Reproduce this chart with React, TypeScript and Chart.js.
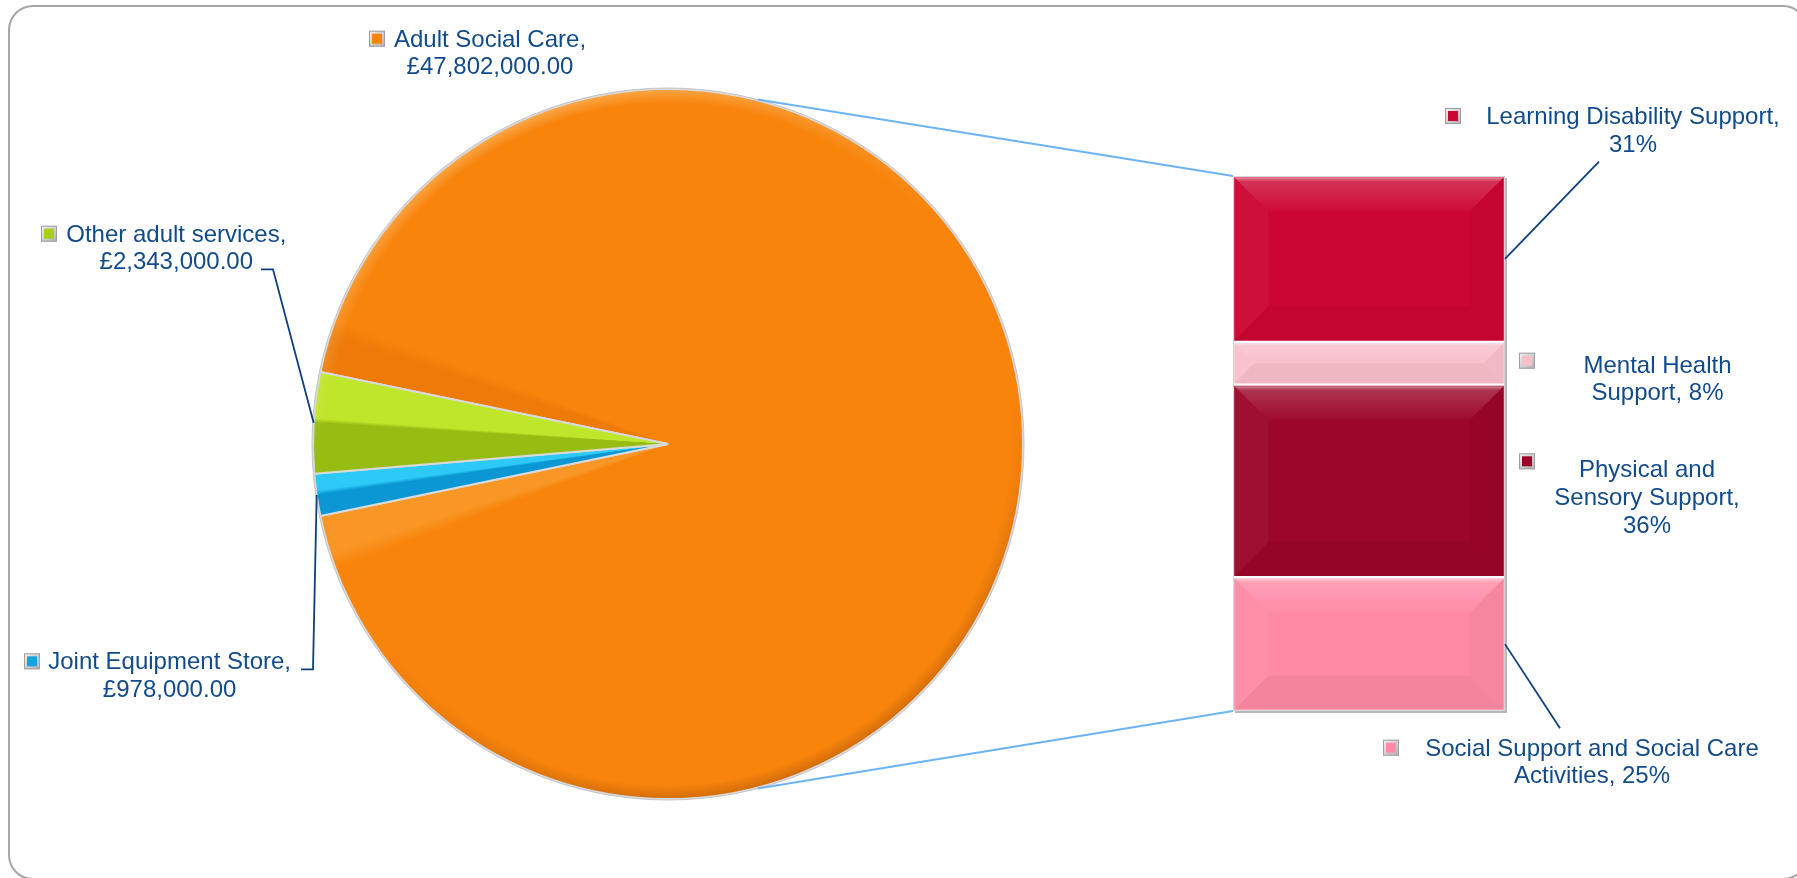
import React, { useEffect, useRef } from 'react';
import { Chart, registerables } from 'chart.js';

Chart.register(...registerables);

// ---------------- data ----------------
const pieCategories = ['Adult Social Care', 'Joint Equipment Store', 'Other adult services'];
const pieValues = [47802000, 978000, 2343000];

const barAxisLabels = ['Adult Social Care'];
const barCategories = [
  'Learning Disability Support',
  'Mental Health Support',
  'Physical and Sensory Support',
  'Social Support and Social Care Activities',
];
const barValues = [31, 8, 36, 25];

// ---------------- styles ----------------
const pieColors = ['#F8840C', '#13A3E2', '#A6CE18'];
const pieLight = ['#F99726', '#2DCAF7', '#BEE62B'];
const pieDark = ['#EE7B09', '#0A97D3', '#97BC12'];
const barColors = ['#CC0632', '#F9C0CB', '#9C0628', '#FF8AA6'];
const TEXT = '#124B8C';
const LEADER = '#0D3F7E';
const CONNECT = '#6DB4F6';
const FONT = '24px "Liberation Sans", Arial, sans-serif';
const LINE_H = 27.6;

const W = 1797;
const H = 878;
const PIE_PAD = { left: 312, top: 88, right: 773, bottom: 78 };
const BAR_PAD = { left: 1233, top: 176, right: 292, bottom: 167 };
const CONNECT_ANGLE = 75.4;

type Pt = [number, number];
interface LabelLayout {
  cx: number;
  baseline: number;
  keyX: number;
  keyLift?: number;
  wrap: number;
  leader?: Pt[];
}

const pieLabelLayout: LabelLayout[] = [
  { cx: 490, baseline: 46.7, keyX: 369, wrap: 205 },
  { cx: 169.6, baseline: 669.3, keyX: 24, wrap: 255, leader: [[301, 669.3], [313, 669.3]] },
  { cx: 176.3, baseline: 241.7, keyX: 41, wrap: 235, leader: [[261, 269.3], [273, 269.3]] },
];
const barLabelLayout: LabelLayout[] = [
  { cx: 1633, baseline: 124, keyX: 1445, wrap: 305, leader: [[1599, 161.7]] },
  { cx: 1657.5, baseline: 372.7, keyX: 1519, keyLift: 4, wrap: 165 },
  { cx: 1647, baseline: 477.3, keyX: 1519, keyLift: 8, wrap: 200 },
  { cx: 1592, baseline: 755.7, keyX: 1383, wrap: 345, leader: [[1560, 728.3]] },
];

// ---------------- derived ----------------
const pieTotal = pieValues.reduce((a, b) => a + b, 0);
const barTotal = barValues.reduce((a, b) => a + b, 0);
const pieRotation = 90 - (180 * pieValues[0]) / pieTotal;
const sliceAngles: [number, number][] = (() => {
  let a = ((pieRotation - 90) * Math.PI) / 180;
  return pieValues.map((v) => {
    const s = a;
    a += (v / pieTotal) * 2 * Math.PI;
    return [s, a] as [number, number];
  });
})();

const fmtMoney = (v: number) => {
  const [i, d] = v.toFixed(2).split('.');
  return '£' + i.replace(/\B(?=(\d{3})+(?!\d))/g, ',') + '.' + d;
};
const pieLabelText = (i: number) => `${pieCategories[i]}, ${fmtMoney(pieValues[i])}`;
const barLabelText = (j: number) => `${barCategories[j]}, ${Math.round((barValues[j] / barTotal) * 100)}%`;

function wrapText(ctx: CanvasRenderingContext2D, text: string, maxWidth: number): string[] {
  const words = text.split(' ');
  const lines: string[] = [];
  let cur = '';
  for (const w of words) {
    const t = cur ? cur + ' ' + w : w;
    if (cur && ctx.measureText(t).width > maxWidth) {
      lines.push(cur);
      cur = w;
    } else cur = t;
  }
  if (cur) lines.push(cur);
  return lines;
}

function drawKey(ctx: CanvasRenderingContext2D, x: number, bottom: number, color: string) {
  const s = 16;
  const y = bottom - s;
  const g = ctx.createLinearGradient(x, y, x + s, y + s);
  g.addColorStop(0, '#F4F4F4');
  g.addColorStop(1, '#AEAEAE');
  ctx.fillStyle = g;
  ctx.fillRect(x, y, s, s);
  ctx.fillStyle = color;
  ctx.fillRect(x + 3, y + 3, s - 6, s - 6);
  ctx.strokeStyle = '#A0A0A0';
  ctx.lineWidth = 1;
  ctx.strokeRect(x + 0.5, y + 0.5, s - 1, s - 1);
}

function drawLabel(ctx: CanvasRenderingContext2D, text: string, lay: LabelLayout, keyColor: string) {
  ctx.font = FONT;
  const lines = wrapText(ctx, text, lay.wrap);
  ctx.fillStyle = TEXT;
  ctx.textAlign = 'center';
  ctx.textBaseline = 'alphabetic';
  lines.forEach((ln, k) => ctx.fillText(ln, lay.cx, lay.baseline + k * LINE_H));
  drawKey(ctx, lay.keyX, lay.baseline - (lay.keyLift || 0), keyColor);
}

function drawPolyline(ctx: CanvasRenderingContext2D, pts: Pt[], color: string, width: number) {
  ctx.beginPath();
  ctx.moveTo(pts[0][0], pts[0][1]);
  for (let i = 1; i < pts.length; i++) ctx.lineTo(pts[i][0], pts[i][1]);
  ctx.strokeStyle = color;
  ctx.lineWidth = width;
  ctx.lineJoin = 'miter';
  ctx.stroke();
}

// ---------------- fills ----------------
const pieFill = (c: any) => {
  const i = c.dataIndex;
  const chart = c.chart;
  const area = chart.chartArea;
  const ctx = chart.ctx as any;
  if (!area || typeof ctx.createConicGradient !== 'function') return pieColors[i];
  const cx = (area.left + area.right) / 2;
  const cy = (area.top + area.bottom) / 2;
  const [a0, a1] = sliceAngles[i];
  const span = (a1 - a0) / (2 * Math.PI);
  const g = ctx.createConicGradient(a0, cx, cy);
  if (span < 0.1) {
    const m = span / 2;
    g.addColorStop(0, pieDark[i]);
    g.addColorStop(m, pieDark[i]);
    g.addColorStop(Math.min(m + 0.002, span), pieLight[i]);
    g.addColorStop(span, pieLight[i]);
    g.addColorStop(1, pieLight[i]);
  } else {
    const f = 6 / 360;
    g.addColorStop(0, pieDark[i]);
    g.addColorStop(f, pieDark[i]);
    g.addColorStop(f + 0.008, pieColors[i]);
    g.addColorStop(span - f - 0.008, pieColors[i]);
    g.addColorStop(span - f, pieLight[i]);
    g.addColorStop(span, pieLight[i]);
    g.addColorStop(1, pieLight[i]);
  }
  return g;
};

// ---------------- plugins ----------------
const pieRimPlugin = {
  id: 'pieRim',
  afterDatasetsDraw(chart: any) {
    const el = chart.getDatasetMeta(0).data[0];
    if (!el) return;
    const { x, y, outerRadius: R } = el.getProps(['x', 'y', 'outerRadius'], true);
    const ctx: CanvasRenderingContext2D = chart.ctx;
    ctx.save();
    const g = ctx.createLinearGradient(x - R * 0.4, y - R, x + R * 0.4, y + R);
    g.addColorStop(0, 'rgba(255,236,190,1)');
    g.addColorStop(0.35, 'rgba(255,236,190,0)');
    g.addColorStop(0.6, 'rgba(110,45,0,0)');
    g.addColorStop(1, 'rgba(110,45,0,0.8)');
    ctx.strokeStyle = g;
    const n = 6;
    for (let k = 0; k < n; k++) {
      ctx.globalAlpha = (0.35 * (n - k)) / n;
      ctx.lineWidth = 2;
      ctx.beginPath();
      ctx.arc(x, y, R - 2 - k * 2, 0, Math.PI * 2);
      ctx.stroke();
    }
    ctx.globalAlpha = 1;
    ctx.strokeStyle = '#C6C6C6';
    ctx.lineWidth = 1;
    ctx.beginPath();
    ctx.arc(x, y, R + 1, 0, Math.PI * 2);
    ctx.stroke();
    ctx.restore();
  },
};

const pieDecorPlugin = {
  id: 'pieDecor',
  afterDraw(chart: any) {
    const ctx: CanvasRenderingContext2D = chart.ctx;
    const meta = chart.getDatasetMeta(0);
    ctx.save();
    pieCategories.forEach((_, i) => {
      const lay = pieLabelLayout[i];
      drawLabel(ctx, pieLabelText(i), lay, pieColors[i]);
      if (lay.leader) {
        const el = meta.data[i];
        const { x, y, outerRadius, startAngle, endAngle } = el.getProps(
          ['x', 'y', 'outerRadius', 'startAngle', 'endAngle'],
          true
        );
        const mid = (startAngle + endAngle) / 2;
        const end: Pt = [x + outerRadius * Math.cos(mid), y + outerRadius * Math.sin(mid)];
        drawPolyline(ctx, [...lay.leader, end], LEADER, 1.8);
      }
    });
    ctx.restore();
  },
};

const barBevelPlugin = {
  id: 'barBevel',
  afterDatasetsDraw(chart: any) {
    const ctx: CanvasRenderingContext2D = chart.ctx;
    ctx.save();
    let L = Infinity, R = -Infinity, T = Infinity, B = -Infinity;
    chart.data.datasets.forEach((_: any, di: number) => {
      const meta = chart.getDatasetMeta(di);
      meta.data.forEach((el: any) => {
        const { x, y, base, width } = el.getProps(['x', 'y', 'base', 'width'], true);
        const l0 = x - width / 2, r0 = x + width / 2;
        const t0 = Math.min(y, base), b0 = Math.max(y, base);
        L = Math.min(L, l0); R = Math.max(R, r0); T = Math.min(T, t0); B = Math.max(B, b0);
        const l = l0 + 1.5, r = r0 - 1.5, t = t0 + 1.5, b = b0 - 1.5;
        const bv = Math.min(34, (b - t) / 2, (r - l) / 2);
        const poly = (pts: Pt[], fill: any) => {
          ctx.beginPath();
          ctx.moveTo(pts[0][0], pts[0][1]);
          pts.slice(1).forEach((p) => ctx.lineTo(p[0], p[1]));
          ctx.closePath();
          ctx.fillStyle = fill;
          ctx.fill();
        };
        const gt = ctx.createLinearGradient(0, t, 0, t + bv);
        gt.addColorStop(0, 'rgba(255,255,255,0.5)');
        gt.addColorStop(0.12, 'rgba(255,255,255,0.18)');
        gt.addColorStop(1, 'rgba(255,255,255,0.02)');
        poly([[l, t], [r, t], [r - bv, t + bv], [l + bv, t + bv]], gt);
        poly([[l, t], [l + bv, t + bv], [l + bv, b - bv], [l, b]], 'rgba(255,255,255,0.04)');
        poly([[r, t], [r - bv, t + bv], [r - bv, b - bv], [r, b]], 'rgba(0,0,0,0.035)');
        poly([[l, b], [r, b], [r - bv, b - bv], [l + bv, b - bv]], 'rgba(0,0,0,0.045)');
      });
    });
    ctx.strokeStyle = '#D6D6D6';
    ctx.lineWidth = 1;
    ctx.strokeRect(L + 0.5, T + 0.5, R - L - 1, B - T - 1);
    ctx.strokeStyle = '#B8B8B8';
    ctx.lineWidth = 2;
    ctx.beginPath();
    ctx.moveTo(R + 1, T + 2);
    ctx.lineTo(R + 1, B + 1);
    ctx.lineTo(L + 2, B + 1);
    ctx.stroke();
    ctx.restore();
  },
};

function makeBarDecor(pie: Chart) {
  return {
    id: 'barDecor',
    afterDraw(chart: any) {
      const ctx: CanvasRenderingContext2D = chart.ctx;
      const n = barCategories.length;
      ctx.save();
      const pel = pie.getDatasetMeta(0).data[0] as any;
      if (pel) {
        const { x, y, outerRadius } = pel.getProps(['x', 'y', 'outerRadius'], true);
        const a = (CONNECT_ANGLE * Math.PI) / 180;
        const rr = outerRadius + 1;
        const topEl = chart.getDatasetMeta(n - 1).data[0];
        const botEl = chart.getDatasetMeta(0).data[0];
        const tp = topEl.getProps(['x', 'y', 'width'], true);
        const bp = botEl.getProps(['x', 'base', 'width'], true);
        drawPolyline(ctx, [[x + rr * Math.cos(-a), y + rr * Math.sin(-a)], [tp.x - tp.width / 2, tp.y]], CONNECT, 2);
        drawPolyline(ctx, [[x + rr * Math.cos(a), y + rr * Math.sin(a)], [bp.x - bp.width / 2, bp.base]], CONNECT, 2);
      }
      barCategories.forEach((_, j) => {
        const lay = barLabelLayout[j];
        drawLabel(ctx, barLabelText(j), lay, barColors[j]);
        if (lay.leader) {
          const el = chart.getDatasetMeta(n - 1 - j).data[0];
          const { x, y, base, width } = el.getProps(['x', 'y', 'base', 'width'], true);
          drawPolyline(ctx, [...lay.leader, [x + width / 2, (y + base) / 2]], LEADER, 1.8);
        }
      });
      ctx.restore();
    },
  };
}

export default function App() {
  const pieRef = useRef<HTMLCanvasElement>(null);
  const barRef = useRef<HTMLCanvasElement>(null);

  useEffect(() => {
    if (!pieRef.current || !barRef.current) return;
    const pie = new Chart(pieRef.current, {
      type: 'pie',
      data: {
        labels: pieCategories,
        datasets: [
          {
            data: pieValues,
            backgroundColor: pieFill as any,
            borderColor: '#D9D9D9',
            borderWidth: 2,
            hoverOffset: 0,
          },
        ],
      },
      options: {
        animation: false,
        responsive: true,
        maintainAspectRatio: false,
        rotation: pieRotation,
        events: [],
        layout: { padding: PIE_PAD },
        plugins: { legend: { display: false }, tooltip: { enabled: false } },
      },
      plugins: [pieRimPlugin, pieDecorPlugin],
    });

    const datasets = barCategories
      .map((cat, j) => ({
        label: cat,
        data: [barValues[j]],
        backgroundColor: barColors[j],
        borderColor: '#FFFFFF',
        borderWidth: 1.5,
        borderSkipped: false as any,
        barPercentage: 1,
        categoryPercentage: 1,
      }))
      .reverse();

    const bar = new Chart(barRef.current, {
      type: 'bar',
      data: { labels: barAxisLabels, datasets },
      options: {
        animation: false,
        responsive: true,
        maintainAspectRatio: false,
        events: [],
        layout: { padding: BAR_PAD },
        scales: {
          x: { stacked: true, display: false },
          y: { stacked: true, display: false, min: 0, max: barTotal },
        },
        plugins: { legend: { display: false }, tooltip: { enabled: false } },
      },
      plugins: [barBevelPlugin, makeBarDecor(pie)],
    });
    return () => {
      bar.destroy();
      pie.destroy();
    };
  }, []);

  return (
    <div style={{ position: 'fixed', left: 0, top: 0, width: W, height: H, overflow: 'hidden', background: '#FFFFFF' }}>
      <div
        style={{
          position: 'absolute',
          left: 8,
          top: 5,
          width: 1800,
          height: 875,
          border: '2px solid #A6A6A6',
          borderRadius: 25,
          boxSizing: 'border-box',
        }}
      />
      <div style={{ position: 'absolute', left: 0, top: 0, width: W, height: H }}>
        <canvas ref={pieRef} />
      </div>
      <div style={{ position: 'absolute', left: 0, top: 0, width: W, height: H }}>
        <canvas ref={barRef} />
      </div>
    </div>
  );
}
